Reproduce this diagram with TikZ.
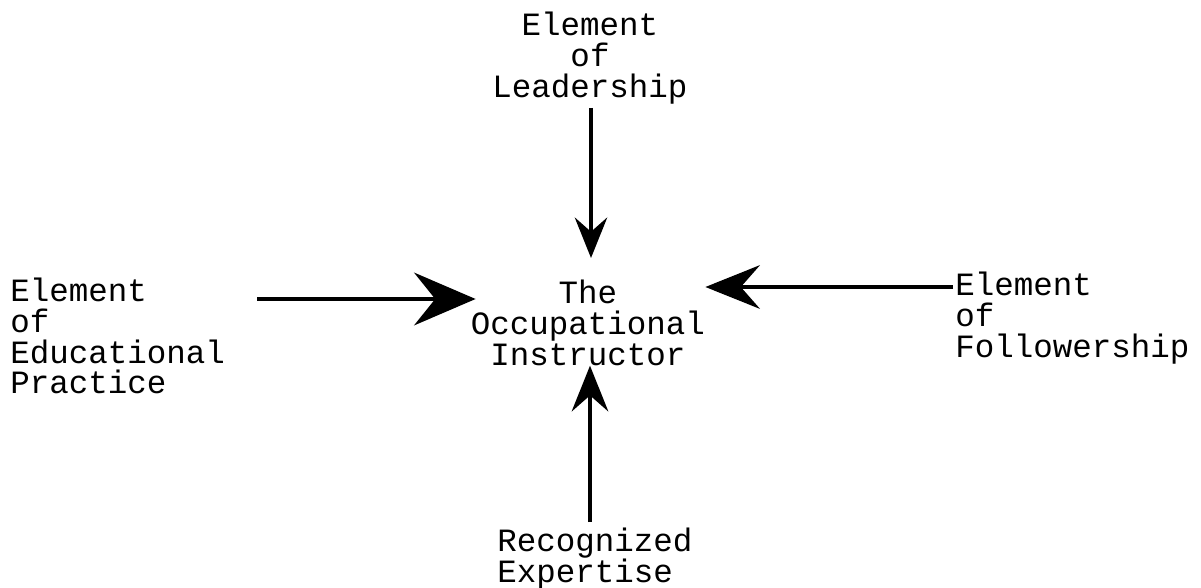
\documentclass[tikz,border=0pt]{standalone}
\usepackage{fontspec}
\usetikzlibrary{arrows.meta}
\newfontfamily\typewriter{Liberation Mono}

\tikzset{
  label/.style={font=\typewriter\fontsize{18.5pt}{17.4pt}\selectfont,inner sep=0pt},
  push/.style={line width=2.4pt,-{Stealth[length=#1,width=0.8*#1,inset=0.35*#1]}},
  push/.default=24pt
}

\begin{document}
\begin{tikzpicture}[x=0.02cm,y=-0.02cm]
        \useasboundingbox (0,0) rectangle (1201,588);
        \coordinate (c) at (588,280);
        \node[label,align=center,anchor=north] (instr) at (c){The\\Occupational\\Instructor};
        \node[label,align=center,anchor=north] (lead) at (590,12){Element\\of\\Leadership};
        \node[label,align=left,anchor=north west] (educ) at (10,278){Element\\of\\Educational\\Practice};
        \node[label,align=left,anchor=north west] (follow) at (955,272){Element\\of\\Followership};
        \node[label,align=left,anchor=north west] (expert) at (497,528){Recognized\\Expertise};
        \coordinate (topfrom) at (591,108);
        \coordinate (topto) at (591,258);
        \coordinate (botfrom) at (590,522);
        \coordinate (lftfrom) at (257,299);
        \coordinate (rgtfrom) at (953,287);
        \draw[push=23pt] (topfrom) -- (topto);
        \draw[push=26pt] (botfrom) -- (botfrom |- instr.south);
        \draw[line width=2.4pt,-{Stealth[length=35pt,width=30pt,inset=12pt]}] (lftfrom) -- ([xshift=0.1cm]lftfrom -| instr.west);
        \draw[push=31pt] (rgtfrom) -- (rgtfrom -| instr.east);
    \end{tikzpicture}
\end{document}
